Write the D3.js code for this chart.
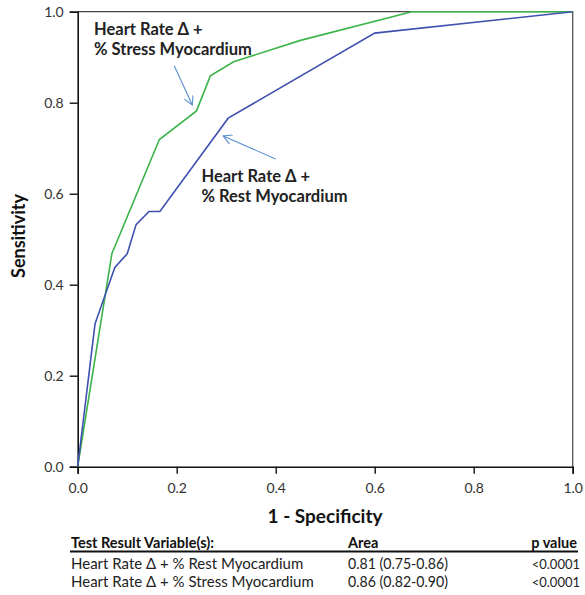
<!DOCTYPE html>
<html>
<head>
<meta charset="utf-8">
<script src="https://cdn.jsdelivr.net/npm/d3@7"></script>
<style>
  body { margin: 0; background: #fff; }
  svg text { font-family: Lato, "Open Sans", sans-serif; }
</style>
</head>
<body>
<svg id="chart" width="585" height="595"></svg>
<script>
// ROC points
const restX = [0, 0.035, 0.075, 0.1, 0.118, 0.144, 0.166, 0.304, 0.6, 1];
const restY = [0, 0.314, 0.438, 0.468, 0.532, 0.561, 0.561, 0.766, 0.953, 1];
const stressX = [0, 0.069, 0.165, 0.24, 0.268, 0.315, 0.45, 0.675, 1];
const stressY = [0, 0.468, 0.719, 0.782, 0.859, 0.89, 0.937, 1, 1];

const ticks = [0, 0.2, 0.4, 0.6, 0.8, 1.0];

const tableHead = ["Test Result Variable(s):", "Area", "p value"];
const tableRows = [
  ["Heart Rate \u0394 + % Rest Myocardium", "0.81 (0.75-0.86)", "<0.0001"],
  ["Heart Rate \u0394 + % Stress Myocardium", "0.86 (0.82-0.90)", "<0.0001"]
];

const margin = { top: 11.7, left: 77.7, right: 12.3, bottom: 128.3 };
const width = 585 - margin.left - margin.right;
const height = 595 - margin.top - margin.bottom;

const svg = d3.select("#chart");
const chart = svg.append("g")
  .attr("transform", `translate(${margin.left},${margin.top})`);

const x = d3.scaleLinear().domain([0, 1]).range([0, width]);
const y = d3.scaleLinear().domain([0, 1]).range([height, 0]);

// frame top/right
chart.append("path")
  .attr("d", `M0,0H${width}V${height}`)
  .attr("fill", "none")
  .attr("stroke", "#444")
  .attr("stroke-width", 1.2);

// axes
const xAxis = chart.append("g")
  .attr("transform", `translate(0,${height})`)
  .call(d3.axisBottom(x).tickValues(ticks).tickFormat(d3.format(".1f")).tickSizeOuter(0).tickSize(7).tickPadding(9));
const yAxis = chart.append("g")
  .call(d3.axisLeft(y).tickValues(ticks).tickFormat(d3.format(".1f")).tickSizeOuter(0).tickSize(8).tickPadding(6));

[xAxis, yAxis].forEach(a => {
  a.select(".domain").attr("stroke", "#111").attr("stroke-width", 1.6);
  a.selectAll(".tick line").attr("stroke", "#111").attr("stroke-width", 1.4);
  a.selectAll("text")
    .attr("fill", "#333")
    .style("font-size", "14px")
    .style("font-family", "Lato, sans-serif");
});

// curves
const line = d3.line().x(d => x(d[0])).y(d => y(d[1]));
const restData = restX.map((v, i) => [v, restY[i]]);
const stressData = stressX.map((v, i) => [v, stressY[i]]);

chart.append("path")
  .datum(stressData)
  .attr("d", line)
  .attr("fill", "none")
  .attr("stroke", "#3cb44a")
  .attr("stroke-width", 1.6);

chart.append("path")
  .datum(restData)
  .attr("d", line)
  .attr("fill", "none")
  .attr("stroke", "#3f51b0")
  .attr("stroke-width", 1.6);

// annotation arrows
svg.append("defs").append("marker")
  .attr("id", "arrow")
  .attr("viewBox", "0 0 10 10")
  .attr("refX", 9)
  .attr("refY", 5)
  .attr("markerWidth", 10)
  .attr("markerHeight", 10)
  .attr("markerUnits", "userSpaceOnUse")
  .attr("orient", "auto")
  .append("path")
  .attr("d", "M0,0L9,5L0,10")
  .attr("fill", "none")
  .attr("stroke", "#5b8fd0")
  .attr("stroke-width", 1.1);

const arrows = [
  { from: [0.195, 0.881], to: [0.2315, 0.795] },
  { from: [0.4, 0.676], to: [0.294, 0.727] }
];
chart.selectAll(".arrow")
  .data(arrows)
  .enter()
  .append("line")
  .attr("class", "arrow")
  .attr("x1", d => x(d.from[0]))
  .attr("y1", d => y(d.from[1]))
  .attr("x2", d => x(d.to[0]))
  .attr("y2", d => y(d.to[1]))
  .attr("stroke", "#5b8fd0")
  .attr("stroke-width", 1.1)
  .attr("marker-end", "url(#arrow)");

const notes = [
  { at: [0.033, 0.949], text: "Heart Rate \u0394 +" },
  { at: [0.033, 0.904], text: "% Stress Myocardium" },
  { at: [0.25, 0.626], text: "Heart Rate \u0394 +" },
  { at: [0.25, 0.582], text: "% Rest Myocardium" }
];
chart.selectAll(".note")
  .data(notes)
  .enter()
  .append("text")
  .attr("class", "note")
  .attr("x", d => x(d.at[0]))
  .attr("y", d => y(d.at[1]))
  .attr("fill", "#222")
  .style("font-size", "16.5px")
  .style("font-weight", "bold")
  .text(d => d.text);

// axis titles
svg.append("text")
  .attr("x", 325)
  .attr("y", 523)
  .attr("text-anchor", "middle")
  .attr("fill", "#111")
  .style("font-size", "19px")
  .style("font-weight", "bold")
  .text("1 - Specificity");

svg.append("text")
  .attr("transform", "translate(25,236) rotate(-90)")
  .attr("text-anchor", "middle")
  .attr("fill", "#111")
  .style("font-size", "18px")
  .style("font-weight", "bold")
  .text("Sensitivity");

// results table: third column right-aligned so it stays inside the frame
const cols = [71, 348, 580];
const anchors = ["start", "start", "end"];
const table = svg.append("g").attr("class", "table");
table.selectAll(".head")
  .data(tableHead)
  .enter()
  .append("text")
  .attr("x", (d, i) => cols[i] - (i === 2 ? 3 : 0))
  .attr("y", 548)
  .attr("text-anchor", (d, i) => anchors[i])
  .attr("fill", "#111")
  .style("font-size", "14.5px")
  .style("font-weight", "bold")
  .text(d => d);

table.append("line")
  .attr("x1", 70).attr("x2", 578)
  .attr("y1", 551.5).attr("y2", 551.5)
  .attr("stroke", "#111")
  .attr("stroke-width", 2);

tableRows.forEach((row, r) => {
  table.selectAll(".row" + r)
    .data(row)
    .enter()
    .append("text")
    .attr("x", (d, i) => cols[i])
    .attr("y", 569 + r * 18)
    .attr("text-anchor", (d, i) => anchors[i])
    .attr("fill", "#222")
    .style("font-size", (d, i) => i === 2 ? "13px" : "15px")
    .text(d => d)
    .filter((d, i) => i === 1)
    .attr("textLength", 100)
    .attr("lengthAdjust", "spacingAndGlyphs");
});
</script>
</body>
</html>
